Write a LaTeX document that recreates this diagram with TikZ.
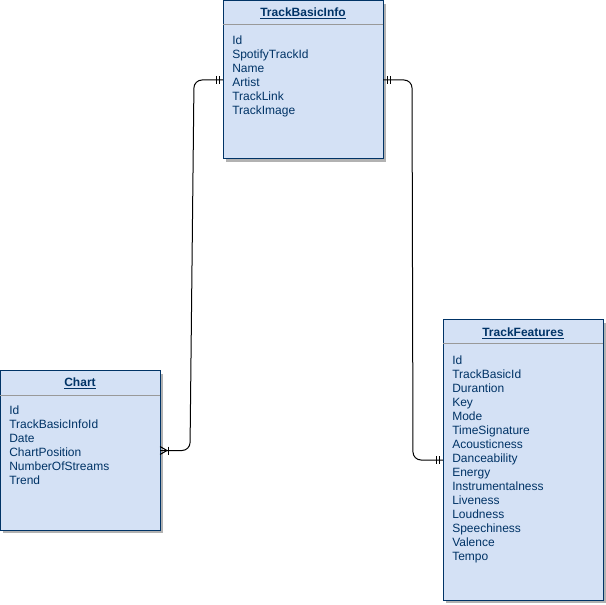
\documentclass[tikz,border=0pt]{standalone}
\usepackage{fontspec}
\setmainfont{Liberation Sans}
\usetikzlibrary{shadows}
\definecolor{tablefill}{HTML}{D4E1F5}
\definecolor{tableline}{HTML}{003366}
\definecolor{sepgray}{HTML}{999999}
\tikzset{
	entity/.style={draw=tableline, fill=tablefill, line width=0.75pt, minimum width=120pt,
		anchor=north west, inner sep=0pt, outer sep=0pt,
		drop shadow={shadow xshift=2.25pt, shadow yshift=-2.25pt, fill=black!30, opacity=1}},
	tabletitle/.style={font=\bfseries\fontsize{9}{10.5}\selectfont, text=tableline},
	fields/.style={font=\fontsize{9}{10.5}\selectfont, text=tableline, align=left,
		anchor=north west, inner sep=0pt},
	sepline/.style={draw=sepgray, line width=0.75pt},
	rel/.style={draw=black, line width=0.75pt},
}
\begin{document}
\begin{tikzpicture}[x=0.75pt, y=-0.75pt]
	\useasboundingbox (0,0) rectangle (606,605);
	% Tabellen
	\node[entity, minimum height=118.5pt] (info) at (223,1) {};
	\node[entity, minimum height=119.25pt] (chart) at (0,371) {};
	\node[entity, minimum height=210pt] (features) at (443,320) {};
	% Kopfzeilen
	\draw[sepline] ([yshift=-18pt]info.north west) -- ([yshift=-18pt]info.north east);
	\draw[sepline] ([yshift=-18pt]chart.north west) -- ([yshift=-18pt]chart.north east);
	\draw[sepline] ([yshift=-18pt]features.north west) -- ([yshift=-18pt]features.north east);
	\node[tabletitle] (info-title) at ([yshift=-9.4pt]info.north) {\underline{TrackBasicInfo}};
	\node[tabletitle] (chart-title) at ([yshift=-9.4pt]chart.north) {\underline{Chart}};
	\node[tabletitle] (features-title) at ([yshift=-10pt]features.north) {\underline{TrackFeatures}};
	% Felder
	\node[fields] (info-fields) at ([xshift=6.75pt, yshift=-26pt]info.north west)
		{Id\\SpotifyTrackId\\Name\\Artist\\TrackLink\\TrackImage};
	\node[fields] (chart-fields) at ([xshift=6.75pt, yshift=-26pt]chart.north west)
		{Id\\TrackBasicInfoId\\Date\\ChartPosition\\NumberOfStreams\\Trend};
	\node[fields] (features-fields) at ([xshift=6.75pt, yshift=-26.7pt]features.north west)
		{Id\\TrackBasicId\\Durantion\\Key\\Mode\\TimeSignature\\Acousticness\\Danceability\\Energy\\Instrumentalness\\Liveness\\Loudness\\Speechiness\\Valence\\Tempo};
	% Beziehungen
	\draw[rel, rounded corners=6pt] (info.west) -- ++(-29,0) -- ([xshift=22.5pt]chart.east) -- (chart.east);
	\draw[rel, rounded corners=6pt] (info.east) -- ++(29,0) -- ([xshift=-22.5pt]features.west) -- (features.west);
	% Kardinalitaeten
	\draw[rel] ([xshift=-3pt]info.west) ++(0,-4) -- ++(0,8);
	\draw[rel] ([xshift=-5.25pt]info.west) ++(0,-4) -- ++(0,8);
	\draw[rel] ([xshift=3pt]info.east) ++(0,-4) -- ++(0,8);
	\draw[rel] ([xshift=5.25pt]info.east) ++(0,-4) -- ++(0,8);
	\draw[rel] ([xshift=-3pt]features.west) ++(0,-4) -- ++(0,8);
	\draw[rel] ([xshift=-5.25pt]features.west) ++(0,-4) -- ++(0,8);
	\draw[rel] ([yshift=3pt]chart.east) -- ([xshift=5.25pt]chart.east) -- ([yshift=-3pt]chart.east);
	\draw[rel] ([xshift=6pt]chart.east) ++(0,-4) -- ++(0,8);
\end{tikzpicture}
\end{document}
